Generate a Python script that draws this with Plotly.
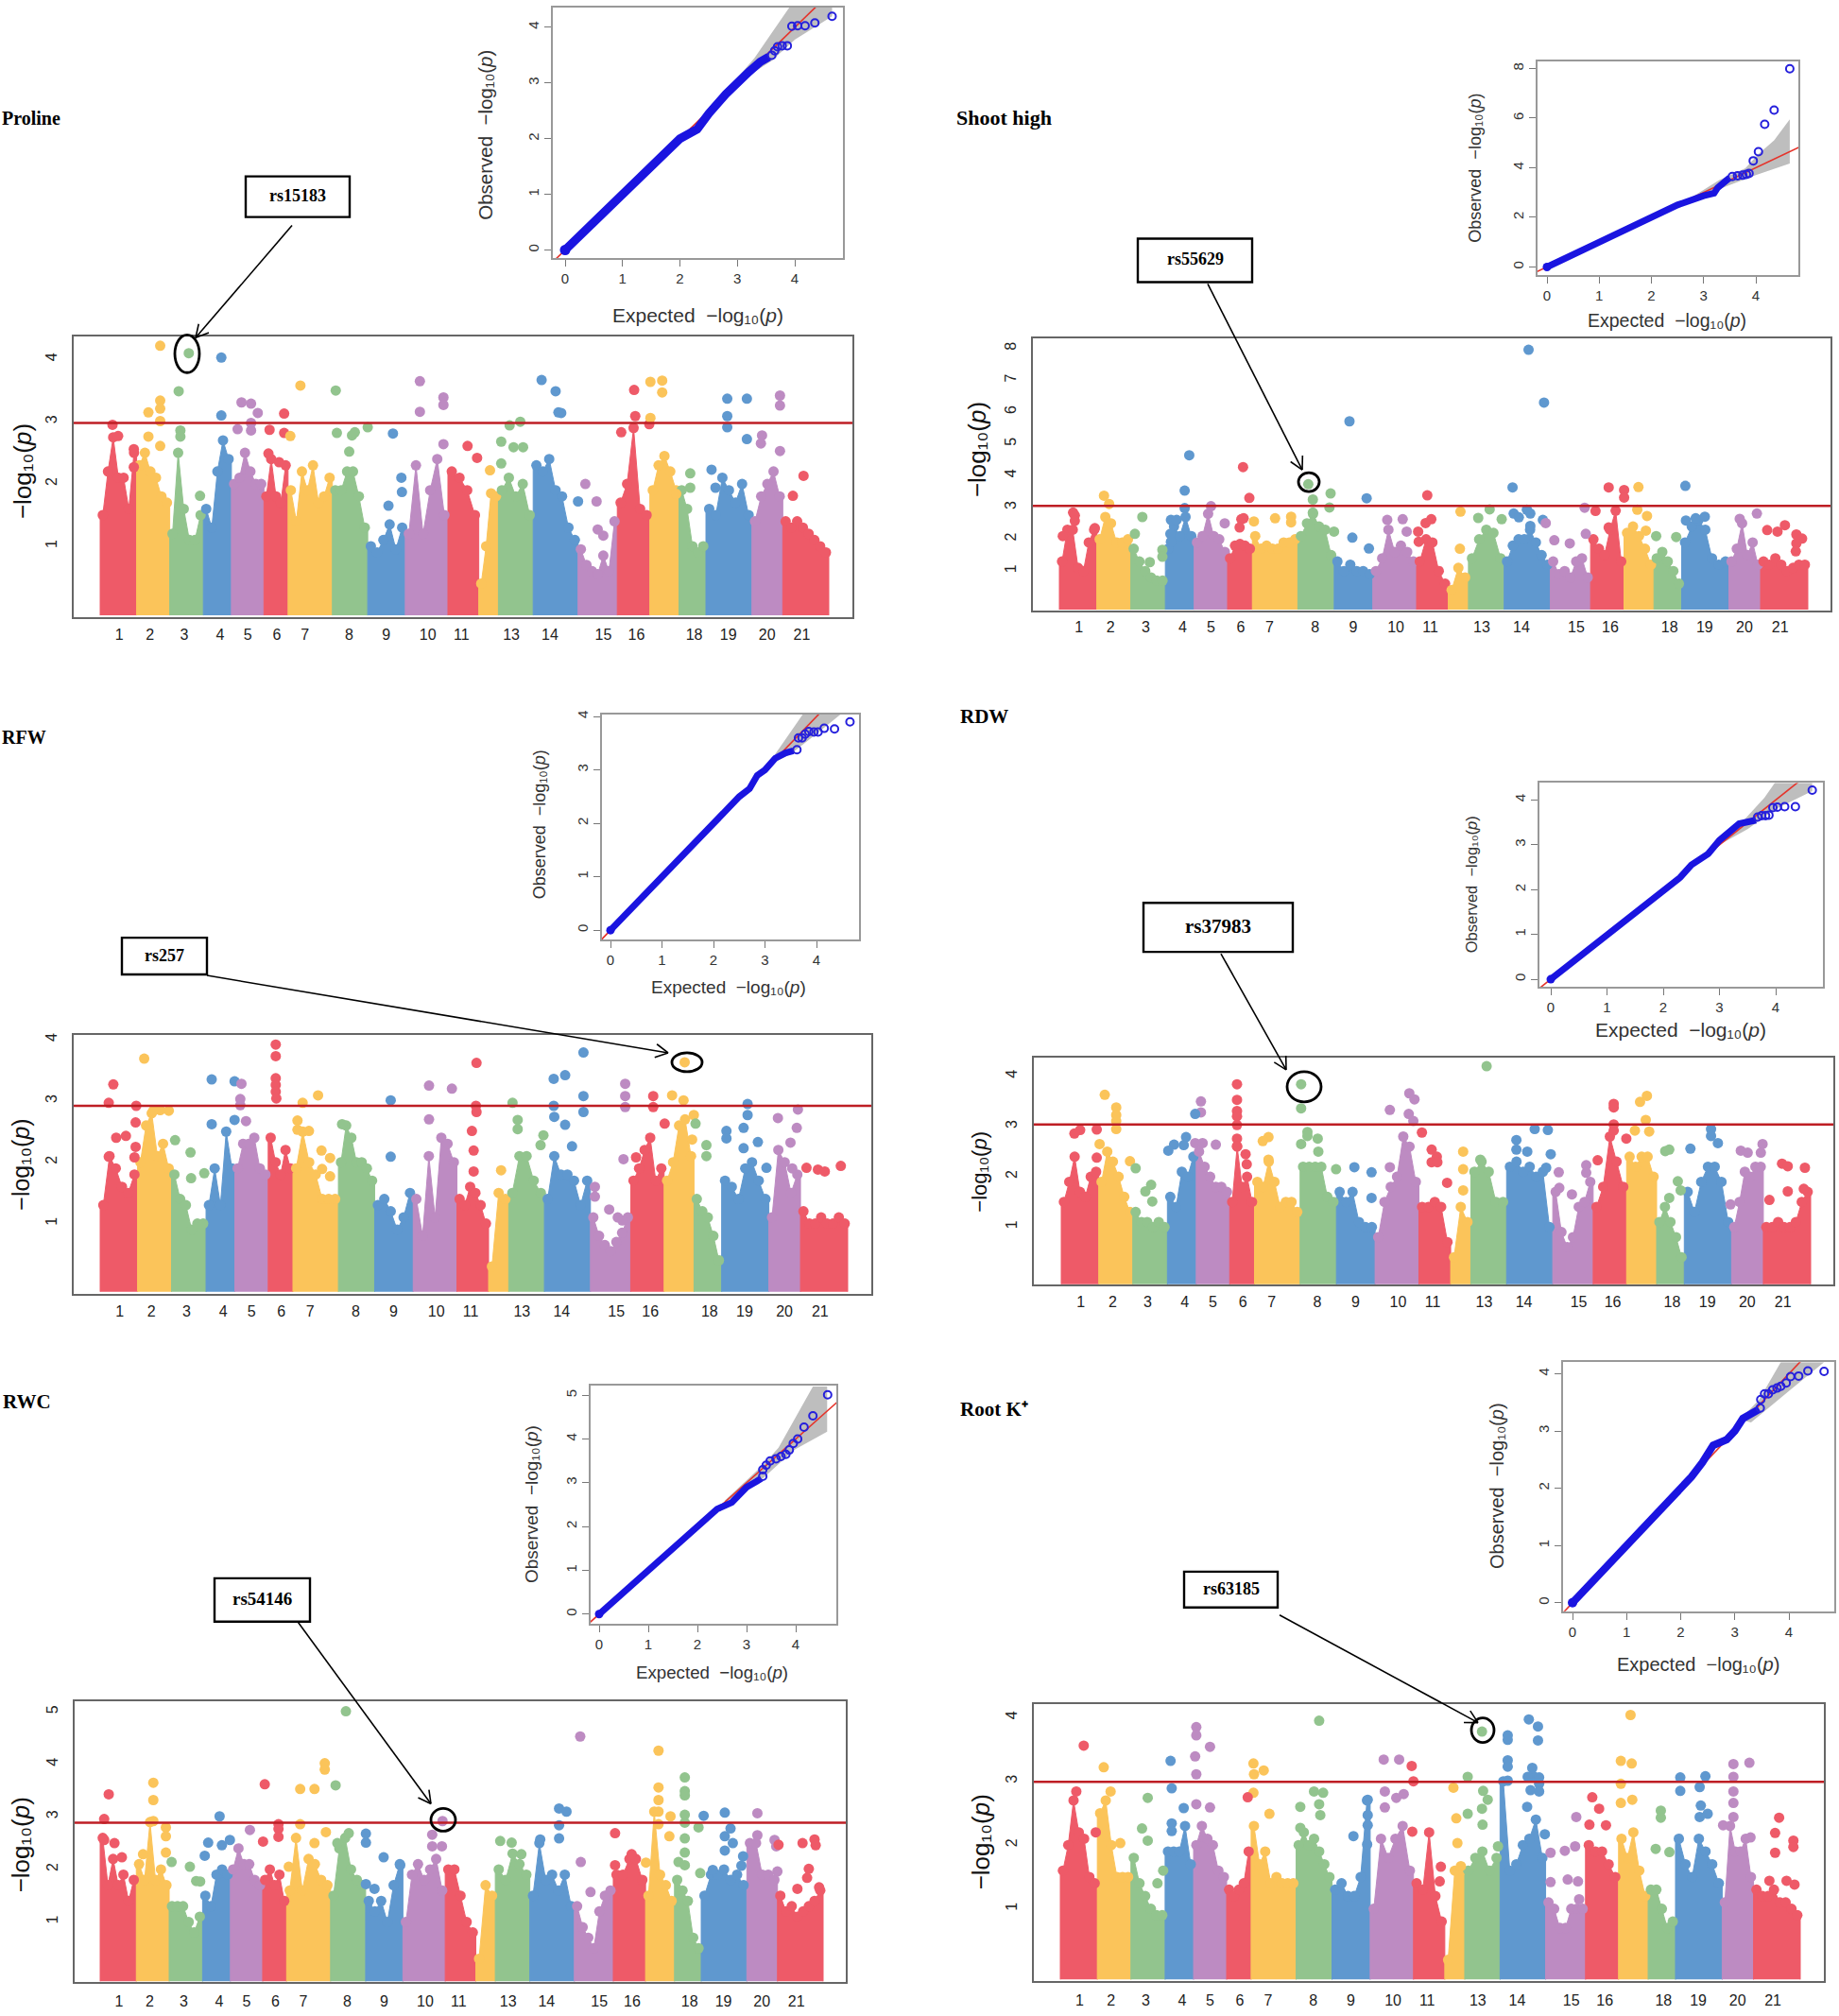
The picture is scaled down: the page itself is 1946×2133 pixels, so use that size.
import numpy as np
import plotly.graph_objects as go

W, H = 1946, 2133

# ---------------- shared chromosome layout (reading units) ----------------
CHR_START = [0, 65, 124, 184, 234, 292, 335, 414, 477, 544, 620, 675, 710, 772, 852, 922, 980, 1032, 1080, 1162, 1217]
CHR_END = [65, 124, 184, 234, 292, 335, 414, 477, 544, 620, 675, 710, 772, 852, 922, 980, 1032, 1080, 1162, 1217, 1299]
TICK_POS = [34, 89, 150, 214, 263, 315, 365, 444, 510, 584, 644, 733, 802, 897, 956, 1059, 1120, 1189, 1251]
TICK_TXT = ["1", "2", "3", "4", "5", "6", "7", "8", "9", "10", "11", "13", "14", "15", "16", "18", "19", "20", "21"]
PALETTE = ["#EE5A68", "#FBC45A", "#92C48E", "#5F98CF", "#BD8BC2"]

# ---------------- Manhattan: envelope of the dense mass, per chromosome ----------------
PROLINE_TOPS = [
    [1.5, 2.2, 2.75, 2.1, 2.1, 1.6, 2.5], [2.3, 2.5, 2.2, 2.1, 1.8, 1.7], [1.2, 2.5, 1.6, 1.1, 1.1, 1.5],
    [1.6, 1.3, 2.2, 2.7, 2.4], [2.0, 2.1, 2.5, 2.2, 2.0, 2.0], [1.8, 2.4, 1.8, 1.7, 2.3],
    [1.9, 1.4, 2.2, 1.9, 2.3, 1.7, 1.8, 2.1], [1.9, 1.9, 2.2, 2.2, 1.8, 1.3], [1.0, 0.9, 1.1, 1.35, 0.95, 1.3],
    [1.2, 2.3, 1.2, 1.9, 2.4, 1.5], [2.2, 2.1, 1.9, 1.5], [0.4, 1.0, 1.85, 1.8], [1.9, 2.1, 1.8, 2.0, 1.5],
    [2.3, 2.2, 2.4, 1.9, 1.8, 1.3, 1.1], [0.95, 0.7, 0.6, 0.55, 0.85, 0.6, 1.4], [1.7, 2.0, 2.9, 1.6, 1.5],
    [1.9, 2.3, 2.45, 2.2, 1.9], [1.9, 1.6, 1.0, 0.9, 1.0], [1.6, 1.5, 2.1, 1.9, 1.7, 2.0, 1.5],
    [1.4, 1.8, 2.0, 2.2, 1.8], [1.4, 1.3, 1.4, 1.3, 1.2, 1.1, 1.0, 0.9]]
SHOOT_TOPS = [
    [1.3, 2.3, 2.3, 1.1, 1.0, 1.9, 2.3], [2.0, 2.7, 2.5, 1.9, 1.9, 2.0], [1.7, 1.3, 1.0, 0.8, 0.7, 0.7],
    [1.7, 2.4, 2.1, 2.7, 2.1], [1.9, 2.1, 2.8, 2.1, 2.0, 1.6], [1.4, 1.8, 1.85, 1.8, 1.7],
    [2.1, 1.7, 1.8, 1.7, 1.7, 1.9, 1.9, 2.0], [2.1, 2.5, 2.8, 2.4, 2.3, 1.5], [1.3, 1.0, 1.2, 1.0, 1.0, 0.9],
    [1.0, 1.4, 2.3, 1.6, 1.8, 1.6, 1.3], [1.3, 2.0, 1.9, 1.0, 0.6], [0.4, 1.1, 0.8], [1.4, 2.0, 2.3, 2.2, 1.4],
    [1.3, 1.8, 2.0, 2.0, 2.3, 1.9, 1.5, 1.2], [1.3, 0.9, 1.0, 0.8, 1.3, 1.4, 0.8], [2.0, 1.7, 1.5, 2.3, 2.9, 1.3],
    [2.2, 2.4, 2.1, 1.7, 1.2], [1.4, 1.6, 1.3, 1.0, 0.6], [1.9, 2.4, 2.6, 2.3, 1.4, 1.2, 1.3],
    [1.3, 1.7, 2.5, 1.5, 1.9, 1.2], [1.3, 1.2, 1.4, 1.2, 1.0, 1.1, 1.2, 1.2]]
RFW_TOPS = [
    [1.3, 2.1, 1.9, 1.6, 1.5, 1.8], [2.0, 2.6, 2.8, 2.1, 2.3, 1.9], [1.8, 1.4, 1.3, 0.9, 1.0, 1.0],
    [1.3, 1.9, 1.3, 2.5, 1.9], [1.9, 2.3, 2.3, 2.4, 1.9, 1.8], [2.4, 2.0, 1.8, 2.2, 1.9],
    [1.9, 2.5, 2.0, 1.8, 1.4, 1.4, 1.4], [2.0, 2.6, 2.4, 2.0, 2.0, 1.9, 1.7], [1.3, 1.4, 1.2, 0.9, 1.1, 1.5],
    [1.4, 0.8, 2.1, 1.1, 2.4, 2.3, 2.0], [1.4, 1.3, 1.6, 1.5, 1.3, 1.0], [0.3, 1.5, 1.4], [1.5, 2.1, 2.1, 1.7, 1.5],
    [1.4, 2.1, 1.8, 1.8, 1.7, 1.3, 1.7], [1.1, 0.8, 0.65, 0.55, 0.7, 0.85, 1.1], [1.7, 1.9, 2.2, 2.4, 1.7, 1.9],
    [1.7, 2.0, 2.6, 2.7, 2.1], [1.4, 1.2, 1.1, 0.8, 0.4], [1.7, 1.6, 1.4, 1.9, 2.0, 1.7, 1.4],
    [1.1, 2.2, 2.0, 1.5, 1.8], [1.2, 1.0, 1.0, 1.1, 1.0, 1.0, 1.1, 1.0]]
RDW_TOPS = [
    [1.5, 1.9, 2.4, 1.7, 1.6, 2.0, 2.1], [1.9, 2.5, 2.3, 2.0, 1.6, 1.3], [1.3, 1.1, 1.1, 1.0, 1.1, 1.0],
    [1.6, 1.4, 2.1, 2.0, 2.4], [2.5, 2.2, 2.0, 1.8, 1.8, 1.7], [1.5, 2.6, 1.8, 2.0, 1.5],
    [1.9, 1.8, 2.3, 1.9, 1.4, 1.5, 1.5, 1.3], [2.2, 2.2, 2.2, 2.2, 1.6, 1.5], [1.7, 1.5, 1.7, 1.1, 1.0, 1.0],
    [0.8, 1.5, 1.8, 2.0, 2.8, 2.6, 1.9], [1.4, 1.4, 1.5, 1.4, 0.7], [0.4, 1.4, 1.1], [2.1, 2.3, 2.1, 1.5, 1.5],
    [2.2, 2.3, 2.1, 2.2, 2.0, 2.1, 1.0], [1.7, 0.9, 0.6, 0.8, 1.4, 1.5, 1.9], [1.4, 1.8, 2.8, 2.3, 1.8],
    [2.4, 2.2, 2.4, 2.4, 2.0], [1.1, 1.4, 1.1, 0.8, 0.4], [1.7, 1.3, 1.9, 2.2, 2.2, 1.9, 1.1],
    [1.0, 1.5, 2.1, 2.0, 2.2, 2.2], [1.0, 1.0, 1.1, 1.0, 1.0, 1.1, 1.5, 1.7]]
RWC_TOPS = [
    [2.6, 1.7, 2.2, 1.7, 1.9, 1.4, 1.8], [2.1, 1.8, 2.9, 1.8, 2.0, 1.7], [1.3, 1.3, 1.3, 1.0, 0.8, 1.1],
    [1.5, 1.3, 1.9, 2.0, 1.9], [2.0, 2.4, 2.1, 2.1, 1.8, 1.7], [1.8, 2.0, 1.7, 1.9, 1.4],
    [1.6, 2.6, 1.6, 2.2, 2.1, 1.8, 1.7], [1.5, 2.4, 2.6, 2.0, 1.8, 1.7], [1.4, 1.2, 1.4, 1.0, 1.7, 2.1],
    [1.0, 1.9, 2.1, 1.8, 2.0, 2.2, 1.6], [2.0, 2.0, 1.5, 1.0, 0.8], [0.3, 1.7, 1.5], [2.0, 1.8, 2.3, 2.1, 1.9],
    [1.5, 2.5, 1.8, 1.9, 1.6, 1.9, 1.3], [1.3, 0.9, 0.7, 0.5, 1.2, 1.5, 1.6], [1.9, 1.9, 2.2, 2.2, 1.8],
    [1.5, 3.1, 1.9, 1.7, 1.4], [1.8, 1.6, 1.4, 0.7, 0.5], [1.5, 1.9, 1.9, 2.0, 1.8, 1.9, 1.7],
    [2.5, 2.5, 1.9, 1.9, 1.8], [1.5, 1.2, 1.3, 1.1, 1.2, 1.3, 1.4, 1.6]]
ROOTK_TOPS = [
    [1.6, 2.0, 2.7, 2.2, 2.1, 1.5, 1.4], [2.5, 2.7, 2.0, 1.5, 1.5, 1.5], [1.8, 1.4, 1.2, 1.0, 0.9, 0.9],
    [1.9, 1.9, 1.9, 2.3, 1.7], [2.0, 2.3, 2.1, 2.0, 1.6, 1.5], [1.3, 1.2, 1.3, 1.4, 1.9],
    [2.3, 1.7, 1.9, 1.4, 1.5, 1.4, 1.4, 1.4], [2.0, 2.2, 2.0, 2.1, 1.9, 1.7, 1.5], [1.3, 1.4, 1.2, 1.2, 1.5, 2.7],
    [1.0, 2.1, 1.8, 2.1, 2.3, 1.6], [1.4, 1.3, 2.2, 1.2, 0.8], [0.2, 1.6, 1.6], [1.6, 1.8, 1.9, 1.6, 1.8],
    [3.0, 1.6, 1.7, 2.0, 2.1, 2.4, 1.8], [1.1, 1.0, 0.7, 0.7, 1.0, 1.0, 1.0], [2.0, 1.9, 1.9, 1.7, 1.5],
    [2.1, 1.8, 2.2, 1.6, 1.2], [1.3, 1.3, 1.0, 0.7, 0.8], [2.1, 1.7, 1.5, 2.1, 1.9, 1.7, 1.4],
    [1.1, 2.3, 1.9, 1.9, 2.1, 1.5], [1.3, 1.2, 1.2, 1.3, 1.1, 1.1, 1.0, 0.9]]

# ---------------- Manhattan: individually visible points (position, -log10 p[, chromosome]) ----------------
PROLINE_PEAKS = [(107,4.22),(158,4.10),(216,4.03),(140,3.49),(357,3.58),(420,3.50),(570,3.65),(612,3.39),(612,3.27),(787,3.67),(812,3.49),(952,3.51),(981,3.64),(1002,3.66),(1002,3.47),(1118,3.37),(1153,3.37),(1212,3.42),(1212,3.26),(107,3.34),(107,3.21),(86,3.15),(107,3.01),(252,3.31),(269,3.29),(281,3.14),(216,3.10),(328,3.13),(570,3.16),(22,2.95),(32,2.77),(86,2.76),(143,2.86),(143,2.76),(245,2.88),(269,2.98),(269,2.86),(302,2.87),(328,2.82),(339,2.77),(107,2.61),(422,2.82),(449,2.78),(454,2.83),(477,2.91,8),(522,2.81),(730,2.94),(749,3.0),(822,3.14),(817,3.15),(954,3.09),(979,2.96),(981,3.06),(929,2.83),(1118,3.09),(1118,2.91),(1153,2.72),(1180,2.78),(1178,2.65),(1212,2.53),(655,2.61),(612,2.64),(715,2.68),(737,2.59),(754,2.59),(444,2.52),(300,2.49),(319,2.35),(60,2.56),(60,2.27),(672,2.42),(1254,2.13),(1235,1.81),(865,2.0),(852,1.72),(885,1.72),(897,1.17),(887,1.27),(537,2.1),(538,1.87),(514,1.65),(178,1.81),(695,2.22),(715,2.33),(1097,1.94),(1090,2.23),(1052,2.17),(1052,1.94),(1027,1.84)]
SHOOT_PEAKS = [(820,7.96),(847,6.30),(507,5.71),(227,4.64),(321,4.27),(435,3.73),(792,3.63),(960,3.63),(987,3.55,16),(1012,3.64),(1094,3.68),(219,3.53),(78,3.37),(332,3.30),(443,3.25),(474,3.44),(537,3.29),(643,3.38),(987,3.31,16),(87,3.11),(265,3.04),(219,2.98),(472,3.0),(752,2.94),(918,2.99),(937,2.89),(1010,2.93),(817,2.93),(701,2.87),(24,2.84),(27,2.75),(27,2.58),(145,2.7),(443,2.84),(377,2.66),(405,2.71),(405,2.53),(794,2.81),(823,2.81),(803,2.69),(823,2.42),(1027,2.73),(845,2.61),(850,2.51,15),(732,2.67),(773,2.63),(600,2.63),(573,2.61),(1219,2.81),(1189,2.64),(1128,2.71),(1112,2.66),(1095,2.59),(318,2.63),(322,2.66),(315,2.37),(195,2.61),(205,2.61),(289,2.5),(340,2.56),(62,2.35),(960,2.37),(1268,2.44),(1237,2.29),(1255,2.24),(1288,2.15),(1298,2.02),(1288,1.87),(1287,1.62),(512,2.05),(541,1.71),(480,2.24),(607,2.24),(700,1.7),(1078,2.07),(1043,2.1),(627,2.24),(640,2.51),(650,2.63),(628,1.92),(6,2.1),(158,1.28),(180,1.67),(180,1.45),(132,2.17),(920,2.17,15),(865,1.97),(892,1.87),(194,2.17),(195,1.92),(1025,2.27)]
RFW_PEAKS = [(307,3.92),(307,3.73),(845,3.79),(77,3.69),(658,3.62),(1022,3.63),(23,3.27),(195,3.35),(235,3.32,4),(247,3.28),(307,3.37),(307,3.26),(307,3.15),(793,3.36),(813,3.42),(575,3.25),(615,3.2),(918,3.28),(918,3.08),(918,2.9),(845,3.08),(508,3.01),(381,3.09),(354,2.97),(1000,3.09),(1020,3.01),(967,3.08),(967,2.9),(1132,2.95),(721,2.97),(15,2.97),(245,3.03),(245,2.93),(63,2.92),(308,3.04),(657,2.92),(793,2.92),(658,2.82),(845,2.82),(1220,2.86),(1132,2.77),(794,2.74),(1038,2.77),(1041,2.63),(1185,2.72),(575,2.7),(235,2.69,4),(255,2.67),(195,2.62),(62,2.65),(345,2.68),(987,2.63,16),(813,2.61),(105,2.85),(120,2.84),(93,2.84),(423,2.62),(730,2.69),(730,2.54),(650,2.51),(1095,2.51),(1125,2.56),(1218,2.56),(345,2.53),(365,2.51),(1035,2.37),(1060,2.28),(1207,2.32),(1060,2.1),(1095,2.39),(131,2.36),(158,2.16),(45,2.43),(28,2.4),(62,2.25),(60,2.08),(15,2.09),(653,2.19),(653,1.85),(508,2.09),(915,2.05),(937,2.08),(865,1.6),(865,1.44),(890,1.23),(905,1.1),(913,1.05),(1295,1.94),(1255,1.88),(1267,1.85),(1235,1.91),(701,1.87),(387,2.19),(402,2.07),(388,1.89),(402,1.77),(182,1.82),(159,1.74),(775,2.44),(770,2.28),(825,2.26),(1165,1.91),(1210,1.9),(1125,2.23),(1150,2.33)]
RDW_PEAKS = [(743,4.2),(307,3.84),(419,3.84),(76,3.63),(608,3.66),(617,3.54,10),(1023,3.61),(1011,3.49),(244,3.5),(307,3.53),(965,3.45),(965,3.38),(96,3.38),(419,3.36),(574,3.33),(244,3.28),(234,3.25,4),(307,3.31),(307,3.2),(607,3.25),(96,3.23),(96,3.11),(96,2.95),(1021,3.13),(307,3.03),(615,3.11,10),(965,3.04),(965,2.92),(827,2.95),(850,2.93),(1135,2.95),(1135,2.81),(33,2.93),(23,2.86),(62,2.94),(1002,2.92),(1027,2.9),(430,2.89),(430,2.81),(630,2.88),(448,2.76),(218,2.79),(987,2.76,16),(795,2.73),(307,2.76),(307,2.61),(362,2.79),(352,2.71),(67,2.65),(197,2.64),(214,2.63),(234,2.67,5),(247,2.67),(270,2.64),(419,2.65),(1147,2.67),(1225,2.65),(449,2.5),(795,2.54),(814,2.5),(1062,2.54),(1055,2.51),(1099,2.56),(1187,2.52),(1199,2.48),(647,2.54),(702,2.5),(855,2.45),(1222,2.48),(187,2.52),(322,2.45),(324,2.25),(362,2.34),(656,2.4),(647,2.29),(657,2.29),(120,2.31),(130,2.17),(62,2.38),(937,2.33),(732,2.34),(702,2.15),(480,2.15),(512,2.19),(542,2.09),(574,2.19),(869,2.09),(847,2.18),(917,2.23),(917,2.08),(1259,2.26),(1269,2.21),(1299,2.18),(1077,1.91),(674,1.88),(1082,1.73),(157,1.84),(147,1.71),(159,1.51),(892,1.65),(870,1.78),(1297,1.76),(1269,1.71),(1237,1.54),(1169,1.45,20),(542,1.58),(702,1.73),(1062,1.58)]
RWC_PEAKS = [(430,5.01),(840,4.53),(977,4.26),(393,4.02),(393,3.9),(1023,3.75),(93,3.65),(288,3.62),(412,3.6),(350,3.53),(375,3.53),(977,3.56),(1023,3.49),(1023,3.41),(15,3.43),(93,3.32),(977,3.32),(803,3.16),(816,3.1),(977,3.1),(1093,3.08),(1150,3.07),(1056,3.02),(1023,3.04),(209,3.01),(7,2.96),(998,3.01),(599,2.92),(93,2.92),(350,2.86),(312,2.86),(803,2.84),(1047,2.8),(1023,2.89),(1103,2.78),(312,2.77),(115,2.8),(977,2.86),(395,2.71),(435,2.69),(465,2.68),(262,2.75),(901,2.69),(581,2.66),(996,2.63),(312,2.62),(1093,2.63),(115,2.63),(1150,2.65),(1180,2.56),(1183,2.44),(7,2.56),(285,2.53,6),(227,2.56),(189,2.51),(213,2.46),(375,2.5),(415,2.5),(465,2.51),(700,2.54),(720,2.51),(770,2.57),(803,2.59),(1023,2.59),(1107,2.5),(1093,2.36),(1250,2.57),(1252,2.46),(1229,2.5),(1187,2.47),(25,2.5),(581,2.44),(598,2.44),(38,2.23),(115,2.32),(75,2.29),(1023,2.32),(930,2.29),(183,2.26),(496,2.23),(737,2.29),(841,2.14),(901,2.08),(1012,2.14),(1023,2.08),(1125,2.25),(1122,2.07),(157,2.05),(330,2.05),(525,2.08),(955,2.13),(1050,1.93),(1072,1.99),(1240,2.01),(1237,1.84),(1220,1.63),(1258,1.66),(125,2.14),(858,1.57),(168,1.78),(175,1.77),(480,1.63),(465,1.72),(1185,1.96)]
ROOTK_PEAKS = [(998,4.04),(453,3.95),(820,3.97),(836,3.86),(238,3.85),(238,3.72),(738,3.78),(783,3.72),(783,3.65),(836,3.64),(41,3.56),(262,3.54),(236,3.39),(193,3.32),(566,3.34),(593,3.34),(783,3.33),(783,3.23),(981,3.32),(1000,3.28),(1178,3.27),(1206,3.29),(615,3.24,11),(338,3.28),(339,3.11),(356,3.17),(76,3.22),(826,3.21),(1178,3.07),(828,3.08),(818,3.07),(838,3.06),(1085,3.06),(1129,3.08),(713,3.07),(238,3.11),(618,3.0,11),(838,2.96),(783,3.01),(981,2.96),(688,2.9),(195,2.89),(1085,2.85),(1119,2.91),(823,2.86),(838,2.84),(1178,2.84),(28,2.84),(88,2.84),(740,2.85),(568,2.84),(444,2.84),(460,2.82),(601,2.8),(338,2.82),(153,2.74),(328,2.75),(931,2.75),(588,2.74),(748,2.71),(238,2.64),(1001,2.71),(981,2.66),(1178,2.66),(817,2.6),(216,2.58),(420,2.6),(262,2.59),(453,2.64),(538,2.71),(568,2.59),(738,2.57),(1121,2.62),(1051,2.54),(1051,2.43),(943,2.57),(1119,2.44),(1133,2.49),(1178,2.44),(366,2.49),(455,2.47),(713,2.49),(693,2.42),(903,2.44),(1258,2.43),(926,2.32),(955,2.31),(1160,2.31),(739,2.32),(538,2.47),(538,2.31),(420,2.27),(143,2.26),(195,2.34),(195,2.22),(62,2.2),(616,2.21,11),(1251,2.19),(513,2.14),(848,2.17),(1283,2.07),(1283,1.97),(105,2.03),(695,2.03),(153,2.07),(766,1.98),(901,1.98),(883,1.91),(858,1.88),(1042,1.94),(1066,1.89),(537,2.01),(1251,1.88),(1208,2.12),(666,1.66),(701,1.67),(180,1.6),(170,1.4),(1241,1.44),(1271,1.44),(1285,1.38),(858,1.42),(888,1.46),(906,1.43),(908,1.15),(664,1.43)]

MANH_THRESHOLDS = [2.98, 3.05, 2.92, 3.04, 2.89, 2.99]
MANH_YTICKS = [[1, 2, 3, 4], [1, 2, 3, 4, 5, 6, 7, 8], [1, 2, 3, 4], [1, 2, 3, 4], [1, 2, 3, 4, 5], [1, 2, 3, 4]]
# span of the peak positions as they were read in each panel
PEAK_SPANS = [1299, 1308, 1307, 1309, 1265, 1295]
ALL_TOPS = [PROLINE_TOPS, SHOOT_TOPS, RFW_TOPS, RDW_TOPS, RWC_TOPS, ROOTK_TOPS]
ALL_PEAKS = [PROLINE_PEAKS, SHOOT_PEAKS, RFW_PEAKS, RDW_PEAKS, RWC_PEAKS, ROOTK_PEAKS]

# ---------------- QQ plots ----------------
QQ_A_DENSE = ([0, .5, 1, 1.5, 1.8, 2, 2.3, 2.5, 2.8, 3.0, 3.2, 3.4, 3.55], [0, .5, 1, 1.5, 1.8, 2, 2.17, 2.45, 2.8, 3.02, 3.2, 3.38, 3.47])
QQ_A_TAIL = ([3.6, 3.65, 3.7, 3.78, 3.87, 3.95, 4.05, 4.18, 4.35, 4.65], [3.5, 3.58, 3.65, 3.67, 3.67, 4.02, 4.03, 4.03, 4.08, 4.2])
QQ_A_CI = ([2.8, 3.3, 3.6, 4.0, 4.65, 4.65, 4.0, 3.6, 3.3, 2.8], [2.85, 3.45, 3.9, 4.5, 5.6, 4.2, 3.78, 3.4, 3.2, 2.78])
QQ_B_DENSE = ([0, 1, 2, 2.5, 3, 3.2, 3.27, 3.4, 3.5], [0, 1, 2, 2.5, 2.87, 2.97, 3.2, 3.45, 3.6])
QQ_B_TAIL = ([3.55, 3.65, 3.75, 3.82, 3.87, 3.95, 4.05, 4.17, 4.35, 4.65], [3.65, 3.68, 3.7, 3.73, 3.77, 4.28, 4.65, 5.75, 6.32, 7.99])
QQ_B_CI = ([2.8, 3.3, 3.8, 4.05, 4.35, 4.65, 4.65, 4.0, 3.5, 2.8], [2.85, 3.5, 3.98, 4.55, 5.1, 5.95, 4.17, 3.7, 3.3, 2.72])
QQ_C_DENSE = ([0, 1, 1.5, 1.9, 2.2, 2.5, 2.7, 2.85, 3.0, 3.2, 3.4, 3.55], [0, 1, 1.5, 1.9, 2.2, 2.5, 2.65, 2.9, 3.0, 3.22, 3.32, 3.36])
QQ_C_TAIL = ([3.62, 3.65, 3.72, 3.78, 3.85, 3.95, 4.03, 4.15, 4.35, 4.65], [3.38, 3.6, 3.6, 3.67, 3.72, 3.71, 3.71, 3.78, 3.77, 3.9])
QQ_C_CI = ([3.2, 3.74, 4.2, 4.48, 3.9, 3.5, 3.2], [3.3, 4.05, 4.9, 4.05, 3.6, 3.3, 3.15])
QQ_D_DENSE = ([0, 1, 1.5, 2, 2.3, 2.5, 2.8, 3.0, 3.2, 3.35, 3.65], [0, 1, 1.5, 2, 2.27, 2.55, 2.8, 3.1, 3.3, 3.47, 3.55])
QQ_D_TAIL = ([3.68, 3.75, 3.82, 3.88, 3.95, 4.03, 4.16, 4.35, 4.65], [3.62, 3.65, 3.65, 3.66, 3.83, 3.84, 3.85, 3.85, 4.22])
QQ_D_CI = ([3.0, 3.4, 3.8, 4.05, 4.65, 4.65, 4.0, 3.5, 3.0], [3.1, 3.5, 4.05, 4.5, 4.5, 4.2, 3.8, 3.35, 3.0])
QQ_E_DENSE = ([0, 1, 2, 2.4, 2.7, 3.0, 3.2, 3.3], [0, 1, 2, 2.4, 2.55, 2.9, 3.03, 3.1])
QQ_E_TAIL = ([3.33, 3.33, 3.4, 3.48, 3.6, 3.7, 3.8, 3.87, 3.95, 4.04, 4.17, 4.35, 4.65], [3.15, 3.3, 3.4, 3.5, 3.55, 3.6, 3.65, 3.75, 3.9, 4.0, 4.27, 4.53, 5.01])
QQ_E_CI = ([2.56, 3.33, 3.65, 4.35, 4.64, 4.64, 3.97, 3.33, 2.56], [2.6, 3.4, 3.8, 5.2, 5.2, 4.17, 3.75, 3.1, 2.55])
QQ_F_DENSE = ([0, 1, 1.5, 2, 2.2, 2.4, 2.6, 2.85, 3.0, 3.15, 3.3, 3.45], [0, 1, 1.5, 2, 2.2, 2.45, 2.75, 2.85, 3.0, 3.22, 3.3, 3.38])
QQ_F_TAIL = ([3.47, 3.48, 3.55, 3.62, 3.7, 3.78, 3.85, 3.95, 4.03, 4.18, 4.35, 4.65], [3.4, 3.55, 3.65, 3.65, 3.72, 3.75, 3.78, 3.84, 3.95, 3.96, 4.05, 4.04])
QQ_F_CI = ([3.1, 3.45, 3.85, 4.65, 4.0, 3.3], [3.2, 3.55, 4.2, 4.2, 3.7, 3.15])
QQ_DIAGONAL = [-0.5, 6.0]
QQ_XTICKS = [0, 1, 2, 3, 4]
QQ_YTICKS = [[0, 1, 2, 3, 4], [0, 2, 4, 6, 8], [0, 1, 2, 3, 4], [0, 1, 2, 3, 4], [0, 1, 2, 3, 4, 5], [0, 1, 2, 3, 4]]
ALL_QQ = [(QQ_A_DENSE, QQ_A_TAIL, QQ_A_CI), (QQ_B_DENSE, QQ_B_TAIL, QQ_B_CI), (QQ_C_DENSE, QQ_C_TAIL, QQ_C_CI),
          (QQ_D_DENSE, QQ_D_TAIL, QQ_D_CI), (QQ_E_DENSE, QQ_E_TAIL, QQ_E_CI), (QQ_F_DENSE, QQ_F_TAIL, QQ_F_CI)]

# ---------------- layout geometry (pixels on the page) ----------------
# left, right, top, bottom, x px of genome start, x px of genome end, y px of 0, px per unit, x tick gap
MANH_BOX = [
    (78, 902, 353, 650, 106, 877, 641, 66.0, 3),
    (1093, 1937, 355, 643, 1121, 1913, 635, 33.7, 2),
    (78, 922, 1093, 1368, 106, 897, 1358, 65.0, 2),
    (1094, 1940, 1117, 1358, 1123, 1916, 1350, 53.3, 2),
    (79, 895, 1799, 2097, 106, 871, 2089, 55.7, 5),
    (1094, 1930, 1802, 2096, 1122, 1905, 2087, 67.6, 5)]
# left, right, top, bottom, x px of 0, x px of 4, y px of 0, px per unit, dense line width
QQ_BOX = [
    (585, 892, 4, 270, 598, 841, 261, 59.0, 9),
    (1627, 1903, 61, 288, 1637, 1858, 279, 26.3, 7),
    (637, 909, 753, 992, 646, 864, 982, 56.6, 7),
    (1629, 1929, 826, 1042, 1641, 1879, 1034, 47.5, 7),
    (625, 885, 1465, 1717, 634, 842, 1707, 46.4, 7),
    (1654, 1941, 1440, 1704, 1664, 1893, 1695, 60.7, 8)]

PX = lambda v: v / W
PY = lambda v: 1 - v / H
SANS = "Liberation Sans"
SERIF = "Liberation Serif"

fig = go.Figure()
layout = dict(width=W, height=H, margin=dict(l=0, r=0, t=0, b=0), paper_bgcolor="white", plot_bgcolor="white",
              showlegend=False, hovermode=False)
shapes, annotations = [], []

def chrom_of(x):
    return int(np.searchsorted(CHR_END, x, side="left"))

axis_n = 0
for i in range(6):
    axis_n += 1
    xa, ya = f"x{axis_n}", f"y{axis_n}"
    L, R, T, B, g0, g1, y0, unit, tgap = MANH_BOX[i]
    gscale = 1299 / (g1 - g0)
    base = -0.11 * 66 / unit
    # dense mass: one filled silhouette per chromosome, plus round tops
    mx, my, mc = [], [], []
    for c, tops in enumerate(ALL_TOPS[i]):
        step = (CHR_END[c] - CHR_START[c]) / len(tops)
        xs = [CHR_START[c] + (k + 0.5) * step for k in range(len(tops))]
        poly_x = [CHR_START[c], CHR_START[c]] + xs + [CHR_END[c], CHR_END[c]]
        poly_y = [base, tops[0]] + list(tops) + [tops[-1], base]
        fig.add_trace(go.Scatter(x=poly_x, y=poly_y, mode="lines", fill="toself", fillcolor=PALETTE[c % 5],
                                 line=dict(width=1, color=PALETTE[c % 5]), xaxis=xa, yaxis=ya))
        mx += xs
        my += list(tops)
        mc += [PALETTE[c % 5]] * len(tops)
    fig.add_trace(go.Scatter(x=mx, y=my, mode="markers", marker=dict(size=11, color=mc), xaxis=xa, yaxis=ya))
    # individual points
    sc = 1299 / PEAK_SPANS[i]
    px_, py_, pc_ = [], [], []
    for p in ALL_PEAKS[i]:
        xv = p[0] * sc
        c = p[2] - 1 if len(p) > 2 else chrom_of(xv)
        px_.append(xv)
        py_.append(p[1])
        pc_.append(PALETTE[c % 5])
    fig.add_trace(go.Scatter(x=px_, y=py_, mode="markers", marker=dict(size=11, color=pc_), xaxis=xa, yaxis=ya))
    xr = [(L - g0) * gscale, (R - g0) * gscale]
    fig.add_trace(go.Scatter(x=xr, y=[MANH_THRESHOLDS[i]] * 2, mode="lines", line=dict(color="#BE1E24", width=2.5),
                             xaxis=xa, yaxis=ya))
    tick = dict(family=SANS, size=16, color="#222222")
    layout[f"xaxis{axis_n}"] = dict(domain=[PX(L), PX(R)], range=xr, anchor=ya, tickvals=TICK_POS, ticktext=TICK_TXT,
                                    tickangle=0, ticks="outside", ticklen=tgap, tickcolor="rgba(0,0,0,0)", tickfont=tick,
                                    showgrid=False, zeroline=False, showline=True, linecolor="#666666", linewidth=2, mirror=True)
    layout[f"yaxis{axis_n}"] = dict(domain=[PY(B), PY(T)], range=[(y0 - B) / unit, (y0 - T) / unit], anchor=xa,
                                    tickvals=MANH_YTICKS[i], tickangle=-90, ticks="outside", ticklen=10,
                                    tickcolor="rgba(0,0,0,0)", tickfont=tick, showgrid=False, zeroline=False,
                                    showline=True, linecolor="#666666", linewidth=2, mirror=True)

for i in range(6):
    axis_n += 1
    xa, ya = f"x{axis_n}", f"y{axis_n}"
    L, R, T, B, x0px, x4px, y0, unit, lw = QQ_BOX[i]
    xunit = (x4px - x0px) / 4
    dense, tail, ci = ALL_QQ[i]
    fig.add_trace(go.Scatter(x=ci[0], y=ci[1], mode="lines", fill="toself", fillcolor="#BEBEBE", line=dict(width=0), xaxis=xa, yaxis=ya))
    fig.add_trace(go.Scatter(x=QQ_DIAGONAL, y=QQ_DIAGONAL, mode="lines", line=dict(color="#E5332A", width=1.6), xaxis=xa, yaxis=ya))
    fig.add_trace(go.Scatter(x=dense[0], y=dense[1], mode="lines", line=dict(color="#1A14E0", width=lw), xaxis=xa, yaxis=ya))
    fig.add_trace(go.Scatter(x=dense[0][:1], y=dense[1][:1], mode="markers", marker=dict(color="#1A14E0", size=lw + 2), xaxis=xa, yaxis=ya))
    fig.add_trace(go.Scatter(x=tail[0], y=tail[1], mode="markers", marker=dict(symbol="circle-open", color="#2620DC", size=8, line=dict(width=2)), xaxis=xa, yaxis=ya))
    tick = dict(family=SANS, size=15, color="#333333")
    layout[f"xaxis{axis_n}"] = dict(domain=[PX(L), PX(R)], range=[(L - x0px) / xunit, (R - x0px) / xunit], anchor=ya,
                                    tickvals=QQ_XTICKS, tickangle=0, ticks="outside", ticklen=7, tickcolor="#777777",
                                    tickfont=tick, showgrid=False, zeroline=False, showline=True, linecolor="#999999",
                                    linewidth=2, mirror=True)
    layout[f"yaxis{axis_n}"] = dict(domain=[PY(B), PY(T)], range=[(y0 - B) / unit, (y0 - T) / unit], anchor=xa,
                                    tickvals=QQ_YTICKS[i], tickangle=-90, ticks="outside", ticklen=7, tickcolor="#777777",
                                    tickfont=tick, showgrid=False, zeroline=False, showline=True, linecolor="#999999",
                                    linewidth=2, mirror=True)

def note(x, y, text, size, family=SANS, angle=0, anchor="center", color="#111111"):
    annotations.append(dict(x=PX(x), y=PY(y), xref="paper", yref="paper", text=text, showarrow=False, textangle=angle,
                            xanchor=anchor, yanchor="middle", font=dict(family=family, size=size, color=color)))

LOGP = "−log₁₀(<i>p</i>)"
for (x, y, s) in [(24, 496, 26), (1034, 473, 26), (22, 1231, 25), (1037, 1238, 22), (22, 1952, 26), (1038, 1949, 26)]:
    note(x, y, LOGP, s, angle=-90)
for (x, y, s) in [(514, 139, 20.5), (1561, 174, 18), (571, 870, 18), (1557, 934, 16.5), (562, 1591, 19), (1584, 1571, 20)]:
    note(x, y, "Observed  " + LOGP, s, angle=-90, color="#333333")
for (x, y, s) in [(738, 330, 21), (1764, 336, 19.5), (771, 1042, 19), (1778, 1088, 21), (753, 1769, 18.7), (1797, 1760, 20)]:
    note(x, y, "Expected  " + LOGP, s, color="#333333")

for (x, y, t, s) in [(0, 121, "Proline", 20), (1010, 121, "Shoot high", 22), (0, 777, "RFW", 20), (1014, 755, "RDW", 21),
                     (1, 1482, "RWC", 21), (1014, 1490, "Root K⁺", 21)]:
    note(x, y, f"<b>{t}</b>", s, family=SERIF, anchor="left", color="black")

CALLOUTS = [
    ("rs15183", 260, 370, 183, 226, 18, (309, 235), (207, 354), (198, 371, 13, 20)),
    ("rs55629", 1204, 1325, 249, 295, 18, (1278, 297), (1378, 494), (1385, 507, 11, 10)),
    ("rs257", 129, 219, 990, 1029, 18, (219, 1030), (707, 1112), (727, 1122, 16, 10)),
    ("rs37983", 1210, 1368, 953, 1005, 21, (1292, 1007), (1361, 1130), (1380, 1148, 18, 16)),
    ("rs54146", 227, 328, 1669, 1715, 19, (304, 1700), (456, 1908), (469, 1925, 13, 12)),
    ("rs63185", 1253, 1352, 1662, 1700, 18, (1354, 1708), (1564, 1822), (1569, 1830, 12, 13)),
]
def seg(a, b, w=1.6):
    shapes.append(dict(type="line", xref="paper", yref="paper", x0=PX(a[0]), y0=PY(a[1]), x1=PX(b[0]), y1=PY(b[1]),
                       line=dict(color="black", width=w), layer="above"))

for name, l, r, t, b, size, a, e, ell in CALLOUTS:
    seg(a, e)
    shapes.append(dict(type="rect", xref="paper", yref="paper", x0=PX(l), x1=PX(r), y0=PY(b), y1=PY(t),
                       line=dict(color="black", width=2.4), fillcolor="white", layer="above"))
    note((l + r) / 2, (t + b) / 2 - 1, f"<b>{name}</b>", size, family=SERIF, color="black")
    ang = np.arctan2(e[1] - a[1], e[0] - a[0])
    for d in (2.65, -2.65):
        seg(e, (e[0] + 15 * np.cos(ang + d), e[1] + 15 * np.sin(ang + d)))
    cx, cy, rx, ry = ell
    shapes.append(dict(type="circle", xref="paper", yref="paper", x0=PX(cx - rx), x1=PX(cx + rx), y0=PY(cy + ry), y1=PY(cy - ry),
                       line=dict(color="black", width=2.8), layer="above"))

layout["shapes"] = shapes
layout["annotations"] = annotations
fig.update_layout(**layout)
fig.write_html("out.html", post_script="document.body.style.margin='0';", config={"displayModeBar": False})
